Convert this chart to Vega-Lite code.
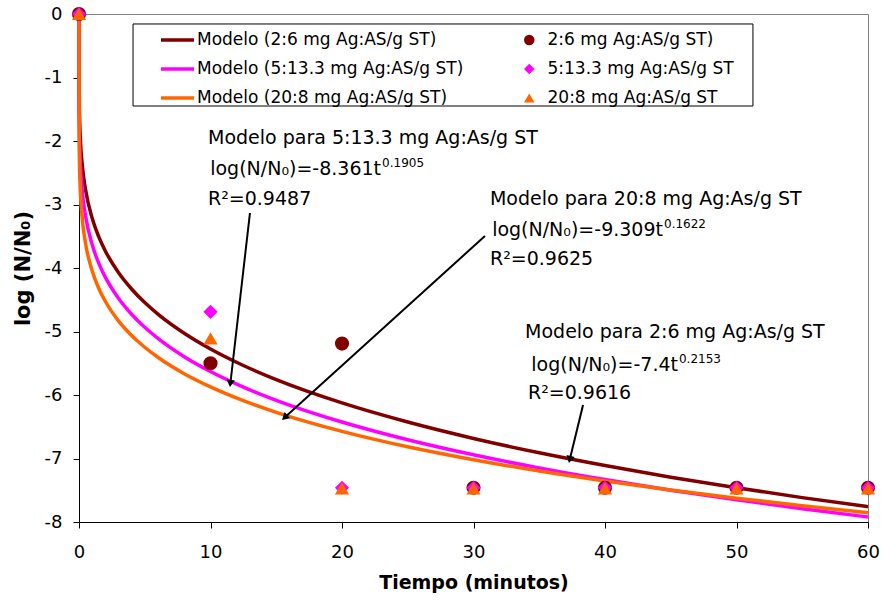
{
  "$schema": "https://vega.github.io/schema/vega-lite/v6.json",
  "width": 789,
  "height": 508,
  "autosize": {"type": "none"},
  "padding": {"left": 79, "top": 14, "right": 13, "bottom": 78},
  "background": "white",
  "config": {
    "view": {"stroke": "#808080", "strokeWidth": 1},
    "font": "DejaVu Sans",
    "axis": {
      "domainColor": "black", "tickColor": "black", "labelColor": "black", "titleColor": "black",
      "grid": false, "labelFont": "DejaVu Sans", "titleFont": "DejaVu Sans",
      "labelFontSize": 18, "titleFontSize": 19, "titleFontWeight": "bold",
      "tickSize": 6, "domainWidth": 1, "tickWidth": 1, "labelFlush": false, "labelOverlap": false
    },
    "legend": {"title": null, "orient": "none", "rowPadding": 0, "clipHeight": 28.5, "padding": 0,
      "labelFont": "DejaVu Sans", "labelFontSize": 17, "labelColor": "black", "labelLimit": 400, "symbolOpacity": 1}
  },
  "datasets": {
    "box": [{"x": 4.11, "xe": 51.25, "y": -0.157, "ye": -1.449}],
    "model": [
      {"serie": "Modelo (2:6 mg Ag:AS/g ST)", "x": 0, "y": 0},
      {"serie": "Modelo (2:6 mg Ag:AS/g ST)", "x": 0.01, "y": -1.192},
      {"serie": "Modelo (2:6 mg Ag:AS/g ST)", "x": 0.03, "y": -1.511},
      {"serie": "Modelo (2:6 mg Ag:AS/g ST)", "x": 0.05, "y": -1.686},
      {"serie": "Modelo (2:6 mg Ag:AS/g ST)", "x": 0.1, "y": -1.957},
      {"serie": "Modelo (2:6 mg Ag:AS/g ST)", "x": 0.25, "y": -2.385},
      {"serie": "Modelo (2:6 mg Ag:AS/g ST)", "x": 0.5, "y": -2.768},
      {"serie": "Modelo (2:6 mg Ag:AS/g ST)", "x": 1, "y": -3.214},
      {"serie": "Modelo (2:6 mg Ag:AS/g ST)", "x": 1.5, "y": -3.507},
      {"serie": "Modelo (2:6 mg Ag:AS/g ST)", "x": 2, "y": -3.731},
      {"serie": "Modelo (2:6 mg Ag:AS/g ST)", "x": 3, "y": -4.071},
      {"serie": "Modelo (2:6 mg Ag:AS/g ST)", "x": 4, "y": -4.331},
      {"serie": "Modelo (2:6 mg Ag:AS/g ST)", "x": 5, "y": -4.545},
      {"serie": "Modelo (2:6 mg Ag:AS/g ST)", "x": 6, "y": -4.727},
      {"serie": "Modelo (2:6 mg Ag:AS/g ST)", "x": 8, "y": -5.028},
      {"serie": "Modelo (2:6 mg Ag:AS/g ST)", "x": 10, "y": -5.276},
      {"serie": "Modelo (2:6 mg Ag:AS/g ST)", "x": 12.5, "y": -5.536},
      {"serie": "Modelo (2:6 mg Ag:AS/g ST)", "x": 15, "y": -5.758},
      {"serie": "Modelo (2:6 mg Ag:AS/g ST)", "x": 20, "y": -6.125},
      {"serie": "Modelo (2:6 mg Ag:AS/g ST)", "x": 25, "y": -6.426},
      {"serie": "Modelo (2:6 mg Ag:AS/g ST)", "x": 30, "y": -6.684},
      {"serie": "Modelo (2:6 mg Ag:AS/g ST)", "x": 35, "y": -6.910},
      {"serie": "Modelo (2:6 mg Ag:AS/g ST)", "x": 40, "y": -7.111},
      {"serie": "Modelo (2:6 mg Ag:AS/g ST)", "x": 45, "y": -7.294},
      {"serie": "Modelo (2:6 mg Ag:AS/g ST)", "x": 50, "y": -7.461},
      {"serie": "Modelo (2:6 mg Ag:AS/g ST)", "x": 55, "y": -7.616},
      {"serie": "Modelo (2:6 mg Ag:AS/g ST)", "x": 60, "y": -7.759},
      {"serie": "Modelo (5:13.3 mg Ag:AS/g ST)", "x": 0, "y": 0},
      {"serie": "Modelo (5:13.3 mg Ag:AS/g ST)", "x": 0.01, "y": -1.510},
      {"serie": "Modelo (5:13.3 mg Ag:AS/g ST)", "x": 0.03, "y": -1.862},
      {"serie": "Modelo (5:13.3 mg Ag:AS/g ST)", "x": 0.05, "y": -2.052},
      {"serie": "Modelo (5:13.3 mg Ag:AS/g ST)", "x": 0.1, "y": -2.342},
      {"serie": "Modelo (5:13.3 mg Ag:AS/g ST)", "x": 0.25, "y": -2.788},
      {"serie": "Modelo (5:13.3 mg Ag:AS/g ST)", "x": 0.5, "y": -3.182},
      {"serie": "Modelo (5:13.3 mg Ag:AS/g ST)", "x": 1, "y": -3.631},
      {"serie": "Modelo (5:13.3 mg Ag:AS/g ST)", "x": 1.5, "y": -3.923},
      {"serie": "Modelo (5:13.3 mg Ag:AS/g ST)", "x": 2, "y": -4.144},
      {"serie": "Modelo (5:13.3 mg Ag:AS/g ST)", "x": 3, "y": -4.476},
      {"serie": "Modelo (5:13.3 mg Ag:AS/g ST)", "x": 4, "y": -4.728},
      {"serie": "Modelo (5:13.3 mg Ag:AS/g ST)", "x": 5, "y": -4.934},
      {"serie": "Modelo (5:13.3 mg Ag:AS/g ST)", "x": 6, "y": -5.108},
      {"serie": "Modelo (5:13.3 mg Ag:AS/g ST)", "x": 8, "y": -5.396},
      {"serie": "Modelo (5:13.3 mg Ag:AS/g ST)", "x": 10, "y": -5.630},
      {"serie": "Modelo (5:13.3 mg Ag:AS/g ST)", "x": 12.5, "y": -5.875},
      {"serie": "Modelo (5:13.3 mg Ag:AS/g ST)", "x": 15, "y": -6.083},
      {"serie": "Modelo (5:13.3 mg Ag:AS/g ST)", "x": 20, "y": -6.425},
      {"serie": "Modelo (5:13.3 mg Ag:AS/g ST)", "x": 25, "y": -6.704},
      {"serie": "Modelo (5:13.3 mg Ag:AS/g ST)", "x": 30, "y": -6.941},
      {"serie": "Modelo (5:13.3 mg Ag:AS/g ST)", "x": 35, "y": -7.148},
      {"serie": "Modelo (5:13.3 mg Ag:AS/g ST)", "x": 40, "y": -7.332},
      {"serie": "Modelo (5:13.3 mg Ag:AS/g ST)", "x": 45, "y": -7.499},
      {"serie": "Modelo (5:13.3 mg Ag:AS/g ST)", "x": 50, "y": -7.651},
      {"serie": "Modelo (5:13.3 mg Ag:AS/g ST)", "x": 55, "y": -7.791},
      {"serie": "Modelo (5:13.3 mg Ag:AS/g ST)", "x": 60, "y": -7.921},
      {"serie": "Modelo (20:8 mg Ag:AS/g ST)", "x": 0, "y": 0},
      {"serie": "Modelo (20:8 mg Ag:AS/g ST)", "x": 0.01, "y": -1.915},
      {"serie": "Modelo (20:8 mg Ag:AS/g ST)", "x": 0.03, "y": -2.289},
      {"serie": "Modelo (20:8 mg Ag:AS/g ST)", "x": 0.05, "y": -2.487},
      {"serie": "Modelo (20:8 mg Ag:AS/g ST)", "x": 0.1, "y": -2.783},
      {"serie": "Modelo (20:8 mg Ag:AS/g ST)", "x": 0.25, "y": -3.229},
      {"serie": "Modelo (20:8 mg Ag:AS/g ST)", "x": 0.5, "y": -3.613},
      {"serie": "Modelo (20:8 mg Ag:AS/g ST)", "x": 1, "y": -4.043},
      {"serie": "Modelo (20:8 mg Ag:AS/g ST)", "x": 1.5, "y": -4.318},
      {"serie": "Modelo (20:8 mg Ag:AS/g ST)", "x": 2, "y": -4.524},
      {"serie": "Modelo (20:8 mg Ag:AS/g ST)", "x": 3, "y": -4.832},
      {"serie": "Modelo (20:8 mg Ag:AS/g ST)", "x": 4, "y": -5.062},
      {"serie": "Modelo (20:8 mg Ag:AS/g ST)", "x": 5, "y": -5.248},
      {"serie": "Modelo (20:8 mg Ag:AS/g ST)", "x": 6, "y": -5.406},
      {"serie": "Modelo (20:8 mg Ag:AS/g ST)", "x": 8, "y": -5.665},
      {"serie": "Modelo (20:8 mg Ag:AS/g ST)", "x": 10, "y": -5.873},
      {"serie": "Modelo (20:8 mg Ag:AS/g ST)", "x": 12.5, "y": -6.090},
      {"serie": "Modelo (20:8 mg Ag:AS/g ST)", "x": 15, "y": -6.273},
      {"serie": "Modelo (20:8 mg Ag:AS/g ST)", "x": 20, "y": -6.572},
      {"serie": "Modelo (20:8 mg Ag:AS/g ST)", "x": 25, "y": -6.815},
      {"serie": "Modelo (20:8 mg Ag:AS/g ST)", "x": 30, "y": -7.019},
      {"serie": "Modelo (20:8 mg Ag:AS/g ST)", "x": 35, "y": -7.197},
      {"serie": "Modelo (20:8 mg Ag:AS/g ST)", "x": 40, "y": -7.354},
      {"serie": "Modelo (20:8 mg Ag:AS/g ST)", "x": 45, "y": -7.496},
      {"serie": "Modelo (20:8 mg Ag:AS/g ST)", "x": 50, "y": -7.625},
      {"serie": "Modelo (20:8 mg Ag:AS/g ST)", "x": 55, "y": -7.744},
      {"serie": "Modelo (20:8 mg Ag:AS/g ST)", "x": 60, "y": -7.854}
    ],
    "pts": [
      {"serie": "2:6 mg Ag:AS/g ST)", "x": 0, "y": 0},
      {"serie": "2:6 mg Ag:AS/g ST)", "x": 10, "y": -5.5},
      {"serie": "2:6 mg Ag:AS/g ST)", "x": 20, "y": -5.19},
      {"serie": "2:6 mg Ag:AS/g ST)", "x": 30, "y": -7.46},
      {"serie": "2:6 mg Ag:AS/g ST)", "x": 40, "y": -7.46},
      {"serie": "2:6 mg Ag:AS/g ST)", "x": 50, "y": -7.46},
      {"serie": "2:6 mg Ag:AS/g ST)", "x": 60, "y": -7.46},
      {"serie": "5:13.3 mg Ag:AS/g ST", "x": 0, "y": 0},
      {"serie": "5:13.3 mg Ag:AS/g ST", "x": 10, "y": -4.69},
      {"serie": "5:13.3 mg Ag:AS/g ST", "x": 20, "y": -7.46},
      {"serie": "5:13.3 mg Ag:AS/g ST", "x": 30, "y": -7.46},
      {"serie": "5:13.3 mg Ag:AS/g ST", "x": 40, "y": -7.46},
      {"serie": "5:13.3 mg Ag:AS/g ST", "x": 50, "y": -7.46},
      {"serie": "5:13.3 mg Ag:AS/g ST", "x": 60, "y": -7.46},
      {"serie": "20:8 mg Ag:AS/g ST", "x": 0, "y": 0},
      {"serie": "20:8 mg Ag:AS/g ST", "x": 10, "y": -5.11},
      {"serie": "20:8 mg Ag:AS/g ST", "x": 20, "y": -7.47},
      {"serie": "20:8 mg Ag:AS/g ST", "x": 30, "y": -7.47},
      {"serie": "20:8 mg Ag:AS/g ST", "x": 40, "y": -7.47},
      {"serie": "20:8 mg Ag:AS/g ST", "x": 50, "y": -7.47},
      {"serie": "20:8 mg Ag:AS/g ST", "x": 60, "y": -7.47}
    ],
    "arrows": [
      {"x": 13.0, "y": -3.134, "xe": 11.51, "ye": -5.819},
      {"x": 30.87, "y": -3.496, "xe": 15.64, "ye": -6.356},
      {"x": 38.33, "y": -6.157, "xe": 37.32, "ye": -7.017}
    ],
    "txtL": [
      {"x": 9.81, "y": -2.055, "txt": "Modelo para 5:13.3 mg Ag:As/g ST"},
      {"x": 9.81, "y": -3.0, "txt": "R²=0.9487"},
      {"x": 31.25, "y": -3.008, "txt": "Modelo para 20:8 mg Ag:As/g ST"},
      {"x": 31.25, "y": -3.953, "txt": "R²=0.9625"},
      {"x": 33.92, "y": -5.102, "txt": "Modelo para 2:6 mg Ag:As/g ST"},
      {"x": 34.14, "y": -6.063, "txt": "R²=0.9616"}
    ],
    "eq": [
      {"x": 22.97, "y": -2.528, "txt": "log(N/N₀)=-8.361t", "sup": "0.1905"},
      {"x": 44.41, "y": -3.496, "txt": "log(N/N₀)=-9.309t", "sup": "0.1622"},
      {"x": 45.55, "y": -5.622, "txt": "log(N/N₀)=-7.4t", "sup": "0.2153"}
    ]
  },
  "encoding": {
    "x": {"field": "x", "type": "quantitative", "title": "Tiempo (minutos)",
      "scale": {"domain": [0, 60], "nice": false, "zero": false},
      "axis": {"values": [0, 10, 20, 30, 40, 50, 60], "labelPadding": 15, "titlePadding": 12, "labelExpr": "toString(datum.value)"}},
    "y": {"field": "y", "type": "quantitative", "title": "log (N/N₀)",
      "scale": {"domain": [-8, 0], "nice": false, "zero": false},
      "axis": {"values": [-8, -7, -6, -5, -4, -3, -2, -1, 0], "labelPadding": 11, "titlePadding": 11, "titleFontSize": 21, "labelExpr": "toString(datum.value)"}}
  },
  "layer": [
    {
      "data": {"name": "box"},
      "mark": {"type": "rect", "fill": "white", "stroke": "black", "strokeWidth": 1},
      "encoding": {"x2": {"field": "xe"}, "y2": {"field": "ye"}}
    },
    {
      "data": {"name": "model"},
      "mark": {"type": "line", "strokeWidth": 3.5, "interpolate": "monotone"},
      "encoding": {
        "stroke": {"field": "serie", "type": "nominal",
          "scale": {"domain": ["Modelo (2:6 mg Ag:AS/g ST)", "Modelo (5:13.3 mg Ag:AS/g ST)", "Modelo (20:8 mg Ag:AS/g ST)"],
                    "range": ["#800000", "#FF00FF", "#FF6600"]},
          "legend": {"legendX": 80, "legendY": 11.75, "labelOffset": 1, "symbolType": "stroke", "symbolSize": 1089, "symbolStrokeWidth": 3.5}
        }
      }
    },
    {
      "data": {"name": "pts"},
      "mark": {"type": "point", "filled": true, "size": 200, "opacity": 1},
      "encoding": {
        "fill": {"field": "serie", "type": "nominal",
          "scale": {"domain": ["2:6 mg Ag:AS/g ST)", "5:13.3 mg Ag:AS/g ST", "20:8 mg Ag:AS/g ST"],
                    "range": ["#800000", "#FF00FF", "#FF6600"]},
          "legend": {"legendX": 441.75, "legendY": 11.75, "labelOffset": 9.75, "symbolSize": 110, "symbolStrokeWidth": 0}},
        "shape": {"field": "serie", "type": "nominal",
          "scale": {"domain": ["2:6 mg Ag:AS/g ST)", "5:13.3 mg Ag:AS/g ST", "20:8 mg Ag:AS/g ST"],
                    "range": ["circle", "diamond", "triangle-up"]},
          "legend": {"legendX": 441.75, "legendY": 11.75, "labelOffset": 9.75, "symbolSize": 110, "symbolStrokeWidth": 0}}
      }
    },
    {
      "data": {"name": "arrows"},
      "mark": {"type": "rule", "color": "black", "strokeWidth": 2},
      "encoding": {"x2": {"field": "xe"}, "y2": {"field": "ye"}}
    },
    {
      "data": {"values": [{"x": 11.51, "y": -5.819}]},
      "mark": {"type": "point", "shape": "triangle-down", "filled": true, "color": "black", "size": 70, "opacity": 1, "angle": 6.6}
    },
    {
      "data": {"values": [{"x": 15.64, "y": -6.356}]},
      "mark": {"type": "point", "shape": "triangle-down", "filled": true, "color": "black", "size": 70, "opacity": 1, "angle": 47.8}
    },
    {
      "data": {"values": [{"x": 37.32, "y": -7.017}]},
      "mark": {"type": "point", "shape": "triangle-down", "filled": true, "color": "black", "size": 70, "opacity": 1, "angle": 13.6}
    },
    {
      "data": {"name": "txtL"},
      "mark": {"type": "text", "align": "left", "baseline": "alphabetic", "font": "DejaVu Sans", "fontSize": 19, "color": "black"},
      "encoding": {"text": {"field": "txt"}}
    },
    {
      "data": {"name": "eq"},
      "mark": {"type": "text", "align": "right", "baseline": "alphabetic", "font": "DejaVu Sans", "fontSize": 19, "color": "black"},
      "encoding": {"text": {"field": "txt"}}
    },
    {
      "data": {"name": "eq"},
      "mark": {"type": "text", "align": "left", "baseline": "alphabetic", "font": "DejaVu Sans", "fontSize": 12, "color": "black", "dx": 1, "dy": -8},
      "encoding": {"text": {"field": "sup"}}
    }
  ]
}
